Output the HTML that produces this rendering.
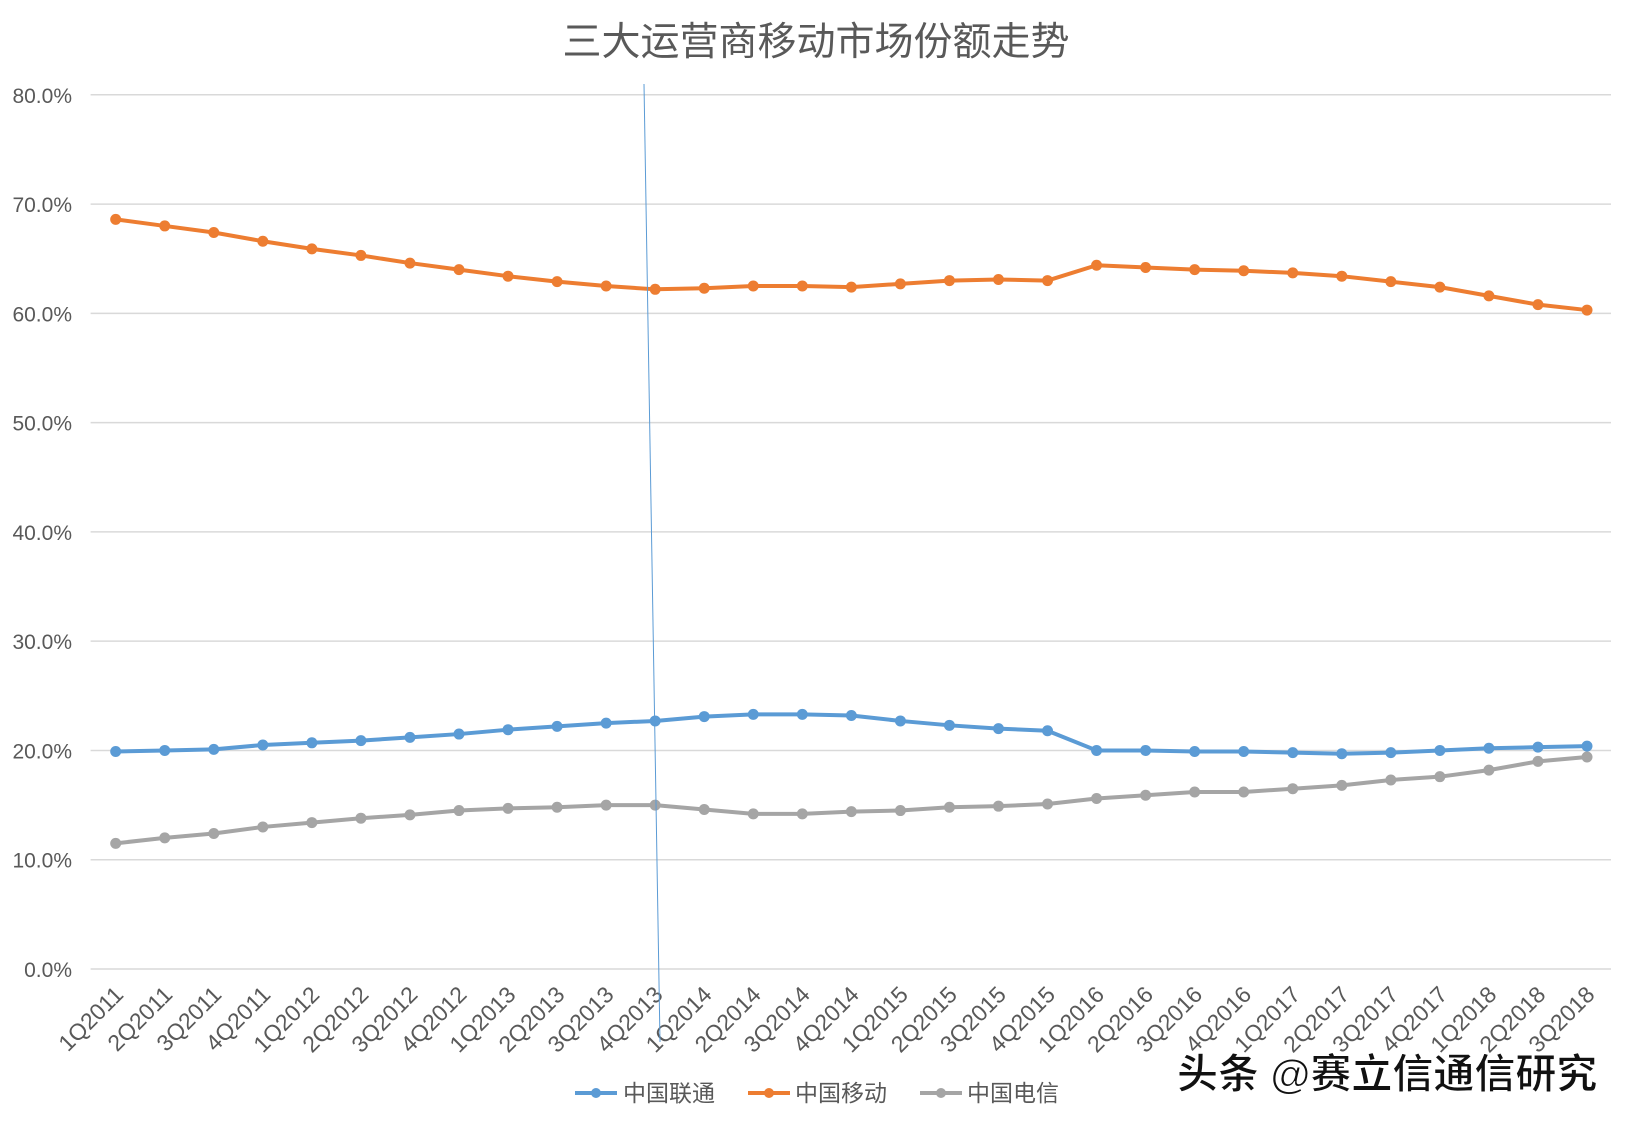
<!DOCTYPE html>
<html><head><meta charset="utf-8"><style>
html,body{margin:0;padding:0;background:#fff;}
svg{display:block;font-family:"Liberation Sans","Noto Sans CJK SC",sans-serif;}
</style></head><body>
<svg id="chart" width="1634" height="1125" viewBox="0 0 1634 1125">
<rect width="1634" height="1125" fill="#fff"/>
<text x="816" y="55" text-anchor="middle" font-size="39" fill="#595959">三大运营商移动市场份额走势</text>
<g id="grid"></g><g id="ylab"></g><g id="xlab"></g><g id="series"></g>
<line x1="644" y1="84" x2="660" y2="1042" stroke="#5b9bd5" stroke-width="1"/>
<g>
<g><line x1="575" y1="1093" x2="617" y2="1093" stroke="#5b9bd5" stroke-width="4"/><circle cx="596" cy="1093" r="5" fill="#5b9bd5"/><text x="623" y="1101" font-size="23" fill="#595959">中国联通</text></g>
<g><line x1="748" y1="1093" x2="790" y2="1093" stroke="#ed7d31" stroke-width="4"/><circle cx="769" cy="1093" r="5" fill="#ed7d31"/><text x="795" y="1101" font-size="23" fill="#595959">中国移动</text></g>
<g><line x1="920" y1="1093" x2="962" y2="1093" stroke="#a5a5a5" stroke-width="4"/><circle cx="941" cy="1093" r="5" fill="#a5a5a5"/><text x="967" y="1101" font-size="23" fill="#595959">中国电信</text></g>
</g>
<text x="1177" y="1088" font-size="41" font-weight="bold" fill="#111" stroke="#fff" stroke-width="1">头条 @赛立信通信研究</text>
</svg>
<script>
const categories=["1Q2011","2Q2011","3Q2011","4Q2011","1Q2012","2Q2012","3Q2012","4Q2012","1Q2013","2Q2013","3Q2013","4Q2013","1Q2014","2Q2014","3Q2014","4Q2014","1Q2015","2Q2015","3Q2015","4Q2015","1Q2016","2Q2016","3Q2016","4Q2016","1Q2017","2Q2017","3Q2017","4Q2017","1Q2018","2Q2018","3Q2018"];
const unicom=[19.9,20.0,20.1,20.5,20.7,20.9,21.2,21.5,21.9,22.2,22.5,22.7,23.1,23.3,23.3,23.2,22.7,22.3,22.0,21.8,20.0,20.0,19.9,19.9,19.8,19.7,19.8,20.0,20.2,20.3,20.4];
const mobile=[68.6,68.0,67.4,66.6,65.9,65.3,64.6,64.0,63.4,62.9,62.5,62.2,62.3,62.5,62.5,62.4,62.7,63.0,63.1,63.0,64.4,64.2,64.0,63.9,63.7,63.4,62.9,62.4,61.6,60.8,60.3];
const telecom=[11.5,12.0,12.4,13.0,13.4,13.8,14.1,14.5,14.7,14.8,15.0,15.0,14.6,14.2,14.2,14.4,14.5,14.8,14.9,15.1,15.6,15.9,16.2,16.2,16.5,16.8,17.3,17.6,18.2,19.0,19.4];
const yTicks=[0,10,20,30,40,50,60,70,80];
const NS="http://www.w3.org/2000/svg";
const X0=115.7,X1=1587,Y0=969,Y80=94.8;
function xs(i){return X0+(X1-X0)*i/(categories.length-1);}
function ys(v){return Y0-(Y0-Y80)*v/80;}
function mk(t,a,p){const e=document.createElementNS(NS,t);for(const k in a)e.setAttribute(k,a[k]);p.appendChild(e);return e;}
const grid=document.getElementById('grid'),yl=document.getElementById('ylab'),xl=document.getElementById('xlab'),sg=document.getElementById('series');
yTicks.forEach(v=>{
 const l=mk('line',{x1:90.6,x2:1611,y1:ys(v),y2:ys(v),stroke:'#d9d9d9','stroke-width':1.5},grid);
 
 
 const t=mk('text',{x:72,y:ys(v)+8,'text-anchor':'end','font-size':21,fill:'#595959'},yl);
 t.textContent=v.toFixed(1)+'%';
 
 
});
categories.forEach((c,i)=>{
 const x=xs(i)+9,y=996;
 const t=mk('text',{x:x,y:y,'text-anchor':'end','font-size':23,fill:'#595959',transform:`rotate(-45 ${x} ${y})`},xl);
 t.textContent=c;
 
 
});
[[unicom,'#5b9bd5','unicom'],[mobile,'#ed7d31','mobile'],[telecom,'#a5a5a5','telecom']].forEach(([d,col,n])=>{
 const g=mk('g',{},sg);
 
 
 const p=mk('polyline',{points:d.map((v,i)=>xs(i)+','+ys(v)).join(' '),fill:'none',stroke:col,'stroke-width':4,'stroke-linejoin':'round'},g);
 
 
 d.forEach((v,i)=>{
  const c=mk('circle',{cx:xs(i),cy:ys(v),r:5.5,fill:col},g);
  
  
 });
});
</script>
</body></html>
